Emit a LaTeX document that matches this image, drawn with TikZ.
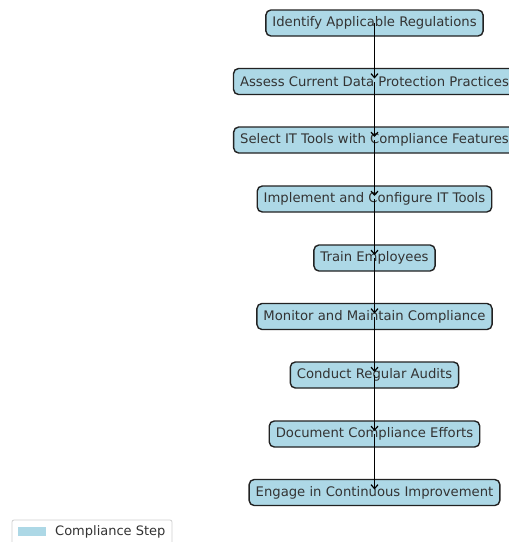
\documentclass[tikz,border=0pt]{standalone}
\usepackage{fontspec}
\setmainfont{DejaVu Sans}
\usetikzlibrary{arrows.meta}
\definecolor{stepfill}{HTML}{ADD8E6}
\definecolor{stepedge}{HTML}{222222}
\definecolor{steptext}{HTML}{333333}
\definecolor{legedge}{HTML}{D0D0D0}
\tikzset{
  stepbox/.style={draw=stepedge, line width=1.4pt, fill=stepfill, rounded corners=5pt,
    text=steptext, font=\fontsize{13.2}{15}\selectfont, minimum height=26pt, inner xsep=6.5pt, inner ysep=0pt},
  flow/.style={draw=black, line width=1.2pt, -{Straight Barb[length=4pt,width=7pt]}, shorten >=3pt}
}
\begin{document}
\begin{tikzpicture}[x=1pt,y=-1pt]
\useasboundingbox (0,0) rectangle (509,542);
\clip (0,0) rectangle (509,542);
\node[stepbox] (n1) at (374.5,23) {Identify Applicable Regulations};
\node[stepbox] (n2) at (374.5,81.5) {Assess Current Data Protection Practices};
\node[stepbox] (n3) at (374.5,140) {Select IT Tools with Compliance Features};
\node[stepbox] (n4) at (374.5,199) {Implement and Configure IT Tools};
\node[stepbox] (n5) at (374.5,258) {Train Employees};
\node[stepbox] (n6) at (374.5,316.5) {Monitor and Maintain Compliance};
\node[stepbox] (n7) at (374.5,375) {Conduct Regular Audits};
\node[stepbox] (n8) at (374.5,434) {Document Compliance Efforts};
\node[stepbox] (n9) at (374.5,492.5) {Engage in Continuous Improvement};
\foreach \a/\b in {n1/n2,n2/n3,n3/n4,n4/n5,n5/n6,n6/n7,n7/n8,n8/n9}
  \draw[flow] (\a.center) -- (\b.center);
% legend
\draw[legedge, line width=0.8pt, fill=white, rounded corners=2pt] (12,520) rectangle (172,550);
\node[fill=stepfill, minimum width=28pt, minimum height=9pt, inner sep=0pt] (legpatch) at (32,531) {};
\node[anchor=west, text=steptext, font=\fontsize{13}{15}\selectfont, inner sep=0pt] (legtext) at (55,531.5) {Compliance Step};
\end{tikzpicture}
\end{document}
